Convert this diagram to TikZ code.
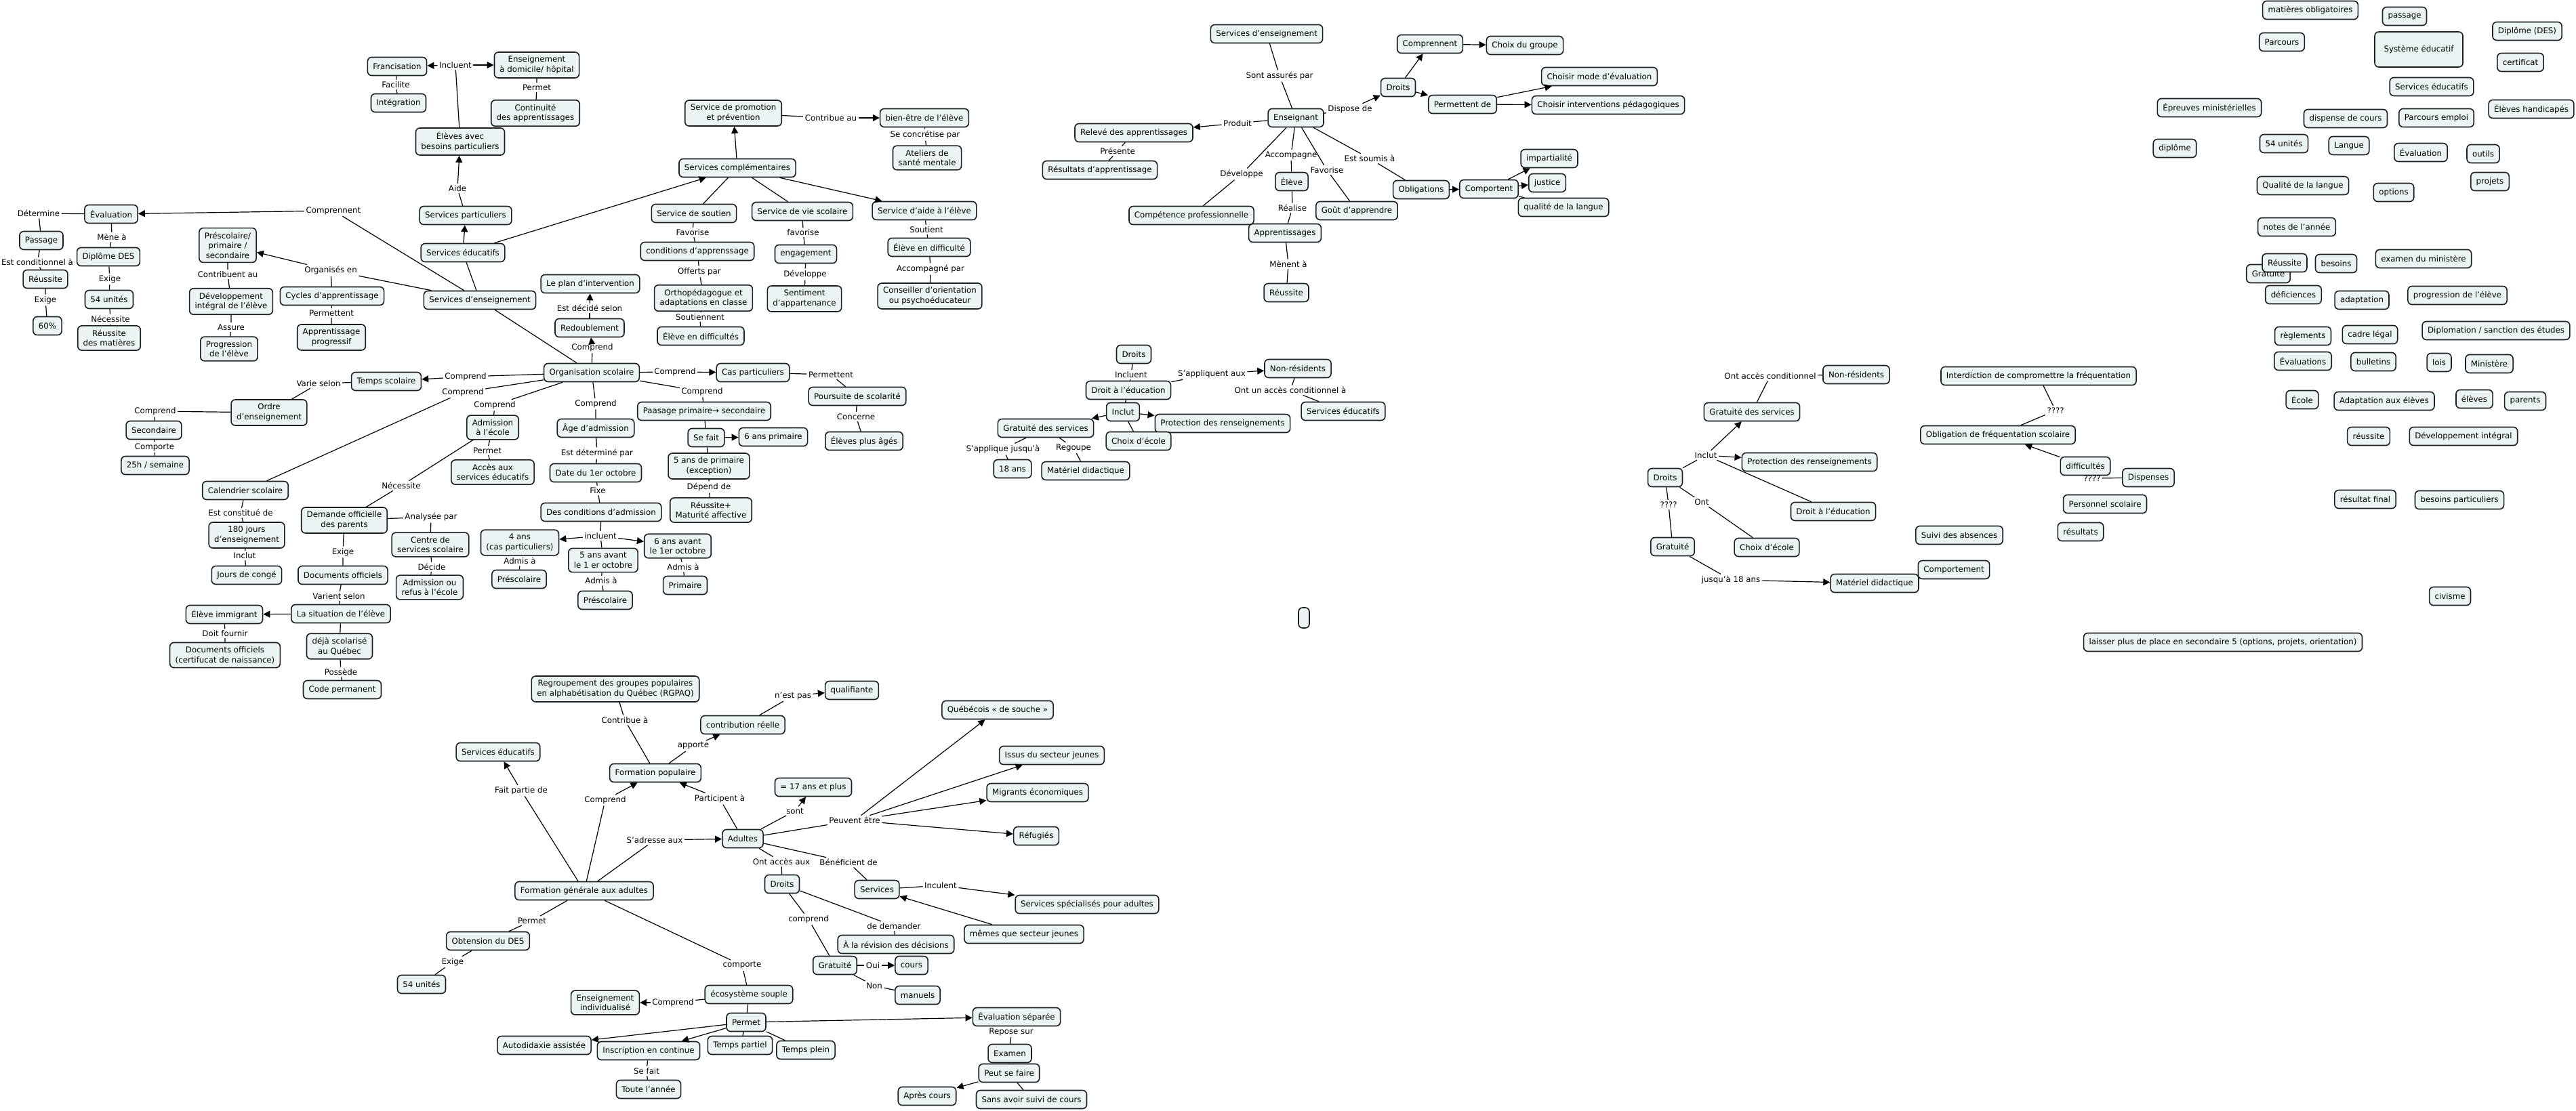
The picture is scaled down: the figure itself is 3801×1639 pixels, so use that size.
\documentclass[tikz,border=0pt]{standalone}
\usepackage{fontspec}
\setmainfont{DejaVu Sans}
\usetikzlibrary{arrows.meta}
\definecolor{conceptfill}{RGB}{236,243,245}
\definecolor{conceptline}{RGB}{30,30,30}
\newcommand{\mapfont}{\fontsize{5.9}{7.3}\selectfont}
\tikzset{
  concept/.style={draw=conceptline, fill=conceptfill, rounded corners=3pt, line width=0.8pt,
    inner xsep=4pt, inner ysep=3pt, minimum height=13.5pt, align=center, font=\mapfont},
  linkphrase/.style={inner sep=1pt, align=center, font=\mapfont},
  arr/.style={-{Triangle[length=5pt,width=5pt]}},
}
\begin{document}
\begin{tikzpicture}[x=0.5pt,y=0.5pt,yscale=-1,xscale=1,line width=0.6pt]
\useasboundingbox (0,0) rectangle (3801,1639);

% Concepts : services educatifs
\node[concept] (francis) at (586,98) {Francisation};
\node[concept] (ensdom) at (792,96) {Enseignement\\à domicile/ hôpital};
\node[concept] (integ) at (588,152) {Intégration};
\node[concept] (contin) at (790,167) {Continuité\\des apprentissages};
\node[concept] (ebp) at (679,209) {Élèves avec\\besoins particuliers};
\node[concept] (spart) at (687,318) {Services particuliers};
\node[concept] (sedu) at (683,373) {Services éducatifs};
\node[concept] (sde) at (708,443) {Services d’enseignement};
\node[concept] (plan) at (871,419) {Le plan d'intervention};
\node[concept] (redoub) at (870,484) {Redoublement};
\node[concept] (promo) at (1082,167) {Service de promotion\\et prévention};
\node[concept] (scomp) at (1088,248) {Services complémentaires};
\node[concept] (soutien) at (1024,315) {Service de soutien};
\node[concept] (cond) at (1029,371) {conditions d'apprenssage};
\node[concept] (ortho) at (1038,440) {Orthopédagogue et\\adaptations en classe};
\node[concept] (ediff) at (1034,496) {Élève en difficultés};
\node[concept] (bienetre) at (1364,174) {bien-être de l'élève};
\node[concept] (ateliers) at (1368,233) {Ateliers de\\santé mentale};
\node[concept] (viesco) at (1184,312) {Service de vie scolaire};
\node[concept] (engag) at (1189,375) {engagement};
\node[concept] (sentim) at (1187,441) {Sentiment\\d'appartenance};
\node[concept] (aide) at (1364,311) {Service d'aide à l'élève};
\node[concept] (ediff2) at (1371,365) {Élève en difficulté};
\node[concept] (conseil) at (1372,437) {Conseiller d'orientation\\ou psychoéducateur};
\node[concept] (eval) at (164,316) {Évaluation};
\node[concept] (passage) at (61,355) {Passage};
\node[concept] (reuss) at (67,412) {Réussite};
\node[concept] (soixante) at (70,481) {60\%};
\node[concept] (dipdes) at (160,379) {Diplôme DES};
\node[concept] (unites) at (161,442) {54 unités};
\node[concept] (reussmat) at (161,499) {Réussite\\des matières};
\node[concept] (prescol) at (336,362) {Préscolaire/\\primaire /\\secondaire};
\node[concept] (devint) at (341,445) {Développement\\intégral de l'élève};
\node[concept] (progel) at (338,515) {Progression\\de l'élève};
\node[concept] (cycles) at (490,437) {Cycles d'apprentissage};
\node[concept] (approg) at (489,498) {Apprentissage\\progressif};

% Concepts : organisation scolaire
\node[concept] (orgsco) at (873,550) {Organisation scolaire};
\node[concept] (tempsco) at (570,563) {Temps scolaire};
\node[concept] (ordre) at (397,609) {Ordre\\d'enseignement};
\node[concept] (second) at (227,635) {Secondaire};
\node[concept] (vingtcinq) at (229,687) {25h / semaine};
\node[concept] (calend) at (362,724) {Calendrier scolaire};
\node[concept] (jours) at (364,790) {180 jours\\d'enseignement};
\node[concept] (conges) at (364,849) {Jours de congé};
\node[concept] (demande) at (508,768) {Demande officielle\\des parents};
\node[concept] (docs) at (506,849) {Documents officiels};
\node[concept] (situation) at (503,906) {La situation de l'élève};
\node[concept] (immig) at (331,907) {Élève immigrant};
\node[concept] (docsnais) at (332,967) {Documents officiels\\(certifucat de naissance)};
\node[concept] (dejasco) at (501,954) {déjà scolarisé\\au Québec};
\node[concept] (codeperm) at (505,1018) {Code permanent};
\node[concept] (admis) at (727,631) {Admission\\à l'école};
\node[concept] (acces) at (727,697) {Accès aux\\services éducatifs};
\node[concept] (centre) at (635,804) {Centre de\\services scolaire};
\node[concept] (refus) at (634,867) {Admission ou\\refus à l'école};
\node[concept] (age) at (879,632) {Âge d'admission};
\node[concept] (date) at (879,698) {Date du 1er octobre};
\node[concept] (condadm) at (887,756) {Des conditions d'admission};
\node[concept] (quatre) at (767,801) {4 ans\\(cas particuliers)};
\node[concept] (presc1) at (766,855) {Préscolaire};
\node[concept] (cinq) at (890,827) {5 ans avant\\le 1 er octobre};
\node[concept] (presc2) at (893,886) {Préscolaire};
\node[concept] (six) at (1000,806) {6 ans avant\\le 1er octobre};
\node[concept] (primaire) at (1011,864) {Primaire};
\node[concept] (caspart) at (1111,550) {Cas particuliers};
\node[concept] (paasage) at (1039,607) {Paasage primaire→ secondaire};
\node[concept] (sefait) at (1042,646) {Se fait};
\node[concept] (sixprim) at (1141,645) {6 ans primaire};
\node[concept] (cinqprim) at (1046,688) {5 ans de primaire\\(exception)};
\node[concept] (maturite) at (1049,753) {Réussite+\\Maturité affective};
\node[concept] (poursuite) at (1265,585) {Poursuite de scolarité};
\node[concept] (plusages) at (1275,651) {Élèves plus âgés};

% Linking phrases
\node[linkphrase] (lIncluent) at (672,96) {Incluent};
\node[linkphrase] (lFacilite) at (584,125) {Facilite};
\node[linkphrase] (lPermet) at (792,129) {Permet};
\node[linkphrase] (lAide) at (675,278) {Aide};
\node[linkphrase] (lComprennent) at (492,311) {Comprennent};
\node[linkphrase] (lDetermine) at (57,315) {Détermine};
\node[linkphrase] (lCondit) at (55,387) {Est conditionnel à};
\node[linkphrase] (lExige) at (67,443) {Exige};
\node[linkphrase] (lMene) at (165,350) {Mène à};
\node[linkphrase] (lExigeB) at (162,412) {Exige};
\node[linkphrase] (lNecess) at (163,471) {Nécessite};
\node[linkphrase] (lOrganises) at (488,399) {Organisés en};
\node[linkphrase] (lContrib) at (336,405) {Contribuent au};
\node[linkphrase] (lAssure) at (341,483) {Assure};
\node[linkphrase] (lPermettent) at (489,462) {Permettent};
\node[linkphrase] (lDecide) at (870,455) {Est décidé selon};
\node[linkphrase] (lComprendR) at (874,513) {Comprend};
\node[linkphrase] (lContribue) at (1226,174) {Contribue au};
\node[linkphrase] (lConcretise) at (1365,199) {Se concrétise par};
\node[linkphrase] (lFavorise) at (1022,343) {Favorise};
\node[linkphrase] (lOfferts) at (1032,401) {Offerts par};
\node[linkphrase] (lSoutiennent) at (1033,468) {Soutiennent};
\node[linkphrase] (lfavoriseV) at (1185,343) {favorise};
\node[linkphrase] (lDeveloppe) at (1188,405) {Développe};
\node[linkphrase] (lSoutient) at (1367,339) {Soutient};
\node[linkphrase] (lAccomp) at (1373,397) {Accompagné par};
\node[linkphrase] (lCompTemps) at (687,556) {Comprend};
\node[linkphrase] (lCompCal) at (683,579) {Comprend};
\node[linkphrase] (lCompAdm) at (730,598) {Comprend};
\node[linkphrase] (lCompAge) at (879,596) {Comprend};
\node[linkphrase] (lCompCas) at (996,549) {Comprend};
\node[linkphrase] (lCompPaas) at (1036,578) {Comprend};
\node[linkphrase] (lVarie) at (470,566) {Varie selon};
\node[linkphrase] (lComprendOrd) at (229,607) {Comprend};
\node[linkphrase] (lComporte) at (228,660) {Comporte};
\node[linkphrase] (lConstitue) at (355,757) {Est constitué de};
\node[linkphrase] (lInclut) at (361,820) {Inclut};
\node[linkphrase] (lNecessite) at (592,717) {Nécessite};
\node[linkphrase] (lAnalysee) at (636,763) {Analysée par};
\node[linkphrase] (lDecideC) at (637,837) {Décide};
\node[linkphrase] (lExigeD) at (506,815) {Exige};
\node[linkphrase] (lVarient) at (500,880) {Varient selon};
\node[linkphrase] (lDoit) at (332,935) {Doit fournir};
\node[linkphrase] (lPossede) at (503,992) {Possède};
\node[linkphrase] (lPermetA) at (719,665) {Permet};
\node[linkphrase] (lDeterminePar) at (881,669) {Est déterminé par};
\node[linkphrase] (lFixe) at (882,724) {Fixe};
\node[linkphrase] (lincluent) at (886,791) {incluent};
\node[linkphrase] (lAdmisA) at (767,828) {Admis à};
\node[linkphrase] (lAdmisB) at (887,857) {Admis à};
\node[linkphrase] (lAdmisC) at (1008,837) {Admis à};
\node[linkphrase] (lDepend) at (1046,719) {Dépend de};
\node[linkphrase] (lPermettentC) at (1226,553) {Permettent};
\node[linkphrase] (lConcerne) at (1263,615) {Concerne};

% Connectors
\draw (sde) -- (lComprennent); \draw[arr] (lComprennent) -- (eval);
\draw (eval) -- (lDetermine) -- (passage);
\draw (passage) -- (lCondit) -- (reuss);
\draw (reuss) -- (lExige) -- (soixante);
\draw (eval) -- (lMene) -- (dipdes);
\draw (dipdes) -- (lExigeB) -- (unites);
\draw (unites) -- (lNecess) -- (reussmat);
\draw (sde) -- (lOrganises); \draw[arr] (lOrganises) -- (prescol);
\draw (lOrganises) -- (cycles);
\draw (prescol) -- (lContrib) -- (devint) -- (lAssure) -- (progel);
\draw (cycles) -- (lPermettent) -- (approg);
\draw (sde) -- (sedu);
\draw[arr] (sedu) -- (spart);
\draw (spart) -- (lAide); \draw[arr] (lAide) -- (ebp);
\draw (ebp) -- (lIncluent);
\draw[arr] (lIncluent) -- (francis); \draw[arr] (lIncluent) -- (ensdom);
\draw (francis) -- (lFacilite) -- (integ);
\draw (ensdom) -- (lPermet) -- (contin);
\draw[arr] (sedu) -- (scomp);
\draw[arr] (scomp) -- (promo);
\draw (scomp) -- (soutien);
\draw (scomp) -- (viesco);
\draw[arr] (scomp) -- (aide);
\draw (promo) -- (lContribue); \draw[arr] (lContribue) -- (bienetre);
\draw (bienetre) -- (lConcretise) -- (ateliers);
\draw (soutien) -- (lFavorise) -- (cond) -- (lOfferts) -- (ortho) -- (lSoutiennent) -- (ediff);
\draw (viesco) -- (lfavoriseV) -- (engag) -- (lDeveloppe) -- (sentim);
\draw (aide) -- (lSoutient) -- (ediff2) -- (lAccomp) -- (conseil);
\draw (sde) -- (orgsco);
\draw (orgsco) -- (lComprendR); \draw[arr] (lComprendR) -- (redoub);
\draw (redoub) -- (lDecide); \draw[arr] (lDecide) -- (plan);
\draw (orgsco) -- (lCompTemps); \draw[arr] (lCompTemps) -- (tempsco);
\draw (tempsco) -- (lVarie) -- (ordre);
\draw (ordre) -- (lComprendOrd) -- (second) -- (lComporte) -- (vingtcinq);
\draw (orgsco) -- (lCompCal) -- (calend);
\draw (calend) -- (lConstitue) -- (jours) -- (lInclut) -- (conges);
\draw (orgsco) -- (lCompAdm) -- (admis);
\draw (admis) -- (lPermetA) -- (acces);
\draw (admis) -- (lNecessite) -- (demande);
\draw (demande) -- (lAnalysee) -- (centre) -- (lDecideC) -- (refus);
\draw (demande) -- (lExigeD) -- (docs) -- (lVarient) -- (situation);
\draw[arr] (situation) -- (immig);
\draw (situation) -- (dejasco);
\draw (immig) -- (lDoit) -- (docsnais);
\draw (dejasco) -- (lPossede) -- (codeperm);
\draw (orgsco) -- (lCompAge) -- (age) -- (lDeterminePar) -- (date) -- (lFixe) -- (condadm);
\draw (condadm) -- (lincluent) -- (cinq);
\draw[arr] (lincluent) -- (quatre); \draw[arr] (lincluent) -- (six);
\draw (quatre) -- (lAdmisA) -- (presc1);
\draw (cinq) -- (lAdmisB) -- (presc2);
\draw (six) -- (lAdmisC) -- (primaire);
\draw (orgsco) -- (lCompCas); \draw[arr] (lCompCas) -- (caspart);
\draw (caspart) -- (lPermettentC) -- (poursuite) -- (lConcerne) -- (plusages);
\draw (orgsco) -- (lCompPaas) -- (paasage);
\draw (paasage) -- (sefait);
\draw[arr] (sefait) -- (sixprim);
\draw (sefait) -- (cinqprim) -- (lDepend) -- (maturite);

% Concepts : enseignant
\node[concept] (sdeB) at (1869,50) {Services d’enseignement};
\node[concept] (enseignant) at (1912,174) {Enseignant};
\node[concept] (releve) at (1673,196) {Relevé des apprentissages};
\node[concept] (resultats) at (1623,251) {Résultats d'apprentissage};
\node[concept] (droitsB) at (2063,129) {Droits};
\node[concept] (comprennent) at (2110,65) {Comprennent};
\node[concept] (choixgroupe) at (2250,67) {Choix du groupe};
\node[concept] (permettentde) at (2158,154) {Permettent de};
\node[concept] (modeeval) at (2360,113) {Choisir mode d'évaluation};
\node[concept] (interv) at (2373,155) {Choisir interventions pédagogiques};
\node[concept] (eleve) at (1906,268) {Élève};
\node[concept] (gout) at (2002,311) {Goût d'apprendre};
\node[concept] (compet) at (1758,318) {Compétence professionnelle};
\node[concept] (apprent) at (1896,344) {Apprentissages};
\node[concept] (reussiteB) at (1898,432) {Réussite};
\node[concept] (oblig) at (2097,280) {Obligations};
\node[concept] (comportent) at (2197,279) {Comportent};
\node[concept] (impart) at (2286,234) {impartialité};
\node[concept] (justice) at (2283,270) {justice};
\node[concept] (qualite) at (2307,306) {qualité de la langue};
\node[linkphrase] (lAssures) at (1888,112) {Sont assurés par};
\node[linkphrase] (lProduit) at (1826,182) {Produit};
\node[linkphrase] (lPresente) at (1649,223) {Présente};
\node[linkphrase] (lDispose) at (1992,161) {Dispose de};
\node[linkphrase] (lAccompagne) at (1905,229) {Accompagne};
\node[linkphrase] (lFavoriseE) at (1958,251) {Favorise};
\node[linkphrase] (lDeveloppeE) at (1832,257) {Développe};
\node[linkphrase] (lSoumis) at (2021,234) {Est soumis à};
\node[linkphrase] (lRealise) at (1907,307) {Réalise};
\node[linkphrase] (lMenent) at (1901,390) {Mènent à};

\draw (sdeB) -- (lAssures) -- (enseignant);
\draw (enseignant) -- (lProduit); \draw[arr] (lProduit) -- (releve);
\draw (releve) -- (lPresente) -- (resultats);
\draw (enseignant) -- (lDispose); \draw[arr] (lDispose) -- (droitsB);
\draw[arr] (droitsB) -- (comprennent); \draw[arr] (comprennent) -- (choixgroupe);
\draw[arr] (droitsB) -- (permettentde);
\draw[arr] (permettentde) -- (modeeval); \draw[arr] (permettentde) -- (interv);
\draw (enseignant) -- (lAccompagne) -- (eleve) -- (lRealise) -- (apprent) -- (lMenent) -- (reussiteB);
\draw (enseignant) -- (lFavoriseE) -- (gout);
\draw (enseignant) -- (lDeveloppeE) -- (compet);
\draw (enseignant) -- (lSoumis) -- (oblig);
\draw[arr] (oblig) -- (comportent);
\draw[arr] (comportent) -- (impart); \draw[arr] (comportent) -- (justice);
\draw (comportent) -- (qualite);

% Concepts : droits
\node[concept] (droitsC) at (1673,523) {Droits};
\node[concept] (droitedu) at (1665,576) {Droit à l'éducation};
\node[concept] (nonres) at (1915,544) {Non-résidents};
\node[concept] (seduC) at (1982,607) {Services éducatifs};
\node[concept] (inclut) at (1657,608) {Inclut};
\node[concept] (gratserv) at (1543,632) {Gratuité des services};
\node[concept] (protect) at (1804,625) {Protection des renseignements};
\node[concept] (choixecole) at (1680,651) {Choix d'école};
\node[concept] (dixhuit) at (1494,692) {18 ans};
\node[concept] (materiel) at (1602,695) {Matériel didactique};
\node[concept, minimum width=8pt, minimum height=15pt, inner xsep=0pt] (emptybox) at (1924,912) {};
\node[linkphrase] (lIncluentD) at (1669,553) {Incluent};
\node[linkphrase] (lAppliquent) at (1788,552) {S'appliquent aux};
\node[linkphrase] (lAccesCond) at (1904,576) {Ont un accès conditionnel à};
\node[linkphrase] (lJusqua) at (1480,663) {S'applique jusqu'à};
\node[linkphrase] (lRegoupe) at (1584,661) {Regoupe};

\draw (droitsC) -- (lIncluentD) -- (droitedu);
\draw (droitedu) -- (lAppliquent); \draw[arr] (lAppliquent) -- (nonres);
\draw (nonres) -- (lAccesCond) -- (seduC);
\draw (droitedu) -- (inclut);
\draw[arr] (inclut) -- (gratserv); \draw[arr] (inclut) -- (protect);
\draw (inclut) -- (choixecole);
\draw (gratserv) -- (lJusqua) -- (dixhuit);
\draw (gratserv) -- (lRegoupe) -- (materiel);

\node[concept] (nonresB) at (2739,553) {Non-résidents};
\node[concept] (gratservB) at (2585,608) {Gratuité des services};
\node[concept] (protectB) at (2670,682) {Protection des renseignements};
\node[concept] (droitsD) at (2457,705) {Droits};
\node[concept] (droiteduB) at (2705,755) {Droit à l'éducation};
\node[concept] (gratuiteB) at (2468,807) {Gratuité};
\node[concept] (choixecoleB) at (2607,808) {Choix d'école};
\node[concept] (materielB) at (2766,861) {Matériel didactique};
\node[concept] (suivi) at (2891,790) {Suivi des absences};
\node[concept] (comportement) at (2883,841) {Comportement};
\node[concept] (interdiction) at (3008,555) {Interdiction de compromettre la fréquentation};
\node[concept] (obligfreq) at (2948,642) {Obligation de fréquentation scolaire};
\node[concept] (difficultes) at (3077,688) {difficultés};
\node[concept] (dispenses) at (3170,705) {Dispenses};
\node[concept] (personnel) at (3106,744) {Personnel scolaire};
\node[concept] (resultatsB) at (3070,785) {résultats};
\node[linkphrase] (lAccesCondB) at (2612,555) {Ont accès conditionnel};
\node[linkphrase] (lInclutD) at (2517,672) {Inclut};
\node[linkphrase] (lQa) at (2462,745) {????};
\node[linkphrase] (lOnt) at (2511,741) {Ont};
\node[linkphrase] (lJusqu) at (2554,856) {jusqu'à 18 ans};
\node[linkphrase] (lQb) at (3033,606) {????};
\node[linkphrase] (lQc) at (3087,706) {????};

\draw (gratservB) -- (lAccesCondB) -- (nonresB);
\draw (droitsD) -- (lInclutD);
\draw[arr] (lInclutD) -- (gratservB); \draw[arr] (lInclutD) -- (protectB);
\draw (lInclutD) -- (droiteduB);
\draw (droitsD) -- (lQa) -- (gratuiteB);
\draw (droitsD) -- (lOnt) -- (choixecoleB);
\draw (gratuiteB) -- (lJusqu); \draw[arr] (lJusqu) -- (materielB);
\draw (obligfreq) -- (lQb) -- (interdiction);
\draw[arr] (difficultes) -- (obligfreq);
\draw (lQc) -- (dispenses);

% Concepts isoles
\node[concept] (matobl) at (3409,15) {matières obligatoires};
\node[concept] (passageB) at (3548,24) {passage};
\node[concept] (diplomeB) at (3729,46) {Diplôme (DES)};
\node[concept] (parcours) at (3367,62) {Parcours};
\node[concept, minimum height=26pt, minimum width=65pt] (systeme) at (3569,73) {Système éducatif};
\node[concept] (certificat) at (3719,92) {certificat};
\node[concept] (seduD) at (3588,128) {Services éducatifs};
\node[concept] (epreuves) at (3260,159) {Épreuves ministérielles};
\node[concept] (dispense) at (3461,175) {dispense de cours};
\node[concept] (parcemploi) at (3595,174) {Parcours emploi};
\node[concept] (handicapes) at (3735,161) {Élèves handicapés};
\node[concept] (diplome) at (3209,219) {diplôme};
\node[concept] (unitesB) at (3370,212) {54 unités};
\node[concept] (langue) at (3466,215) {Langue};
\node[concept] (evalB) at (3572,225) {Évaluation};
\node[concept] (outils) at (3664,227) {outils};
\node[concept] (projets) at (3674,268) {projets};
\node[concept] (qualiteB) at (3398,274) {Qualité de la langue};
\node[concept] (options) at (3532,284) {options};
\node[concept] (notes) at (3389,335) {notes de l’année};
\node[concept] (gratuiteC) at (3347,404) {Gratuité};
\node[concept] (reussiteC) at (3371,388) {Réussite};
\node[concept] (besoins) at (3447,389) {besoins};
\node[concept] (examenmin) at (3576,382) {examen du ministère};
\node[concept] (deficiences) at (3384,435) {déficiences};
\node[concept] (adaptation) at (3485,443) {adaptation};
\node[concept] (progression) at (3626,436) {progression de l’élève};
\node[concept] (reglements) at (3398,496) {règlements};
\node[concept] (cadre) at (3497,494) {cadre légal};
\node[concept] (diplomation) at (3683,488) {Diplomation / sanction des études};
\node[concept] (evaluations) at (3398,533) {Évaluations};
\node[concept] (bulletins) at (3502,534) {bulletins};
\node[concept] (lois) at (3599,535) {lois};
\node[concept] (ministere) at (3673,537) {Ministère};
\node[concept] (ecole) at (3397,590) {École};
\node[concept] (adapteleves) at (3518,592) {Adaptation aux élèves};
\node[concept] (eleves) at (3651,589) {élèves};
\node[concept] (parents) at (3726,592) {parents};
\node[concept] (reussiteD) at (3495,644) {réussite};
\node[concept] (devintB) at (3635,644) {Développement intégral};
\node[concept] (resfinal) at (3490,737) {résultat final};
\node[concept] (besoinspart) at (3629,738) {besoins particuliers};
\node[concept] (civisme) at (3615,880) {civisme};
\node[concept] (laisser) at (3280,948) {laisser plus de place en secondaire 5 (options, projets, orientation)};

% Concepts : formation generale aux adultes
\node[concept] (rgpaq) at (908,1017) {Regroupement des groupes populaires\\en alphabétisation du Québec (RGPAQ)};
\node[concept] (contrib) at (1096,1070) {contribution réelle};
\node[concept] (qualif) at (1257,1019) {qualifiante};
\node[concept] (seduB) at (735,1110) {Services éducatifs};
\node[concept] (formpop) at (967,1141) {Formation populaire};
\node[concept] (dixsept) at (1200,1162) {= 17 ans et plus};
\node[concept] (adultes) at (1096,1238) {Adultes};
\node[concept] (droitsE) at (1154,1305) {Droits};
\node[concept] (fga) at (862,1315) {Formation générale aux adultes};
\node[concept] (obtension) at (720,1389) {Obtension du DES};
\node[concept] (unitesC) at (622,1453) {54 unités};
\node[concept] (ecosys) at (1105,1468) {écosystème souple};
\node[concept] (ensind) at (893,1480) {Enseignement\\individualisé};
\node[concept] (permetbox) at (1101,1509) {Permet};
\node[concept] (autodid) at (803,1543) {Autodidaxie assistée};
\node[concept] (inscript) at (957,1551) {Inscription en continue};
\node[concept] (tpartiel) at (1092,1543) {Temps partiel};
\node[concept] (tplein) at (1189,1550) {Temps plein};
\node[concept] (touteannee) at (957,1608) {Toute l'année};
\node[concept] (quebecois) at (1472,1048) {Québécois « de souche »};
\node[concept] (issus) at (1552,1115) {Issus du secteur jeunes};
\node[concept] (migrants) at (1531,1170) {Migrants économiques};
\node[concept] (refugies) at (1529,1234) {Réfugiés};
\node[concept] (services) at (1294,1313) {Services};
\node[concept] (servspec) at (1604,1335) {Services spécialisés pour adultes};
\node[concept] (memes) at (1511,1379) {mêmes que secteur jeunes};
\node[concept] (revision) at (1322,1394) {À la révision des décisions};
\node[concept] (gratuiteD) at (1232,1425) {Gratuité};
\node[concept] (cours) at (1345,1425) {cours};
\node[concept] (manuels) at (1354,1469) {manuels};
\node[concept] (evalsep) at (1500,1501) {Évaluation séparée};
\node[concept] (examen) at (1490,1555) {Examen};
\node[concept] (peutsefaire) at (1489,1584) {Peut se faire};
\node[concept] (apres) at (1368,1618) {Après cours};
\node[concept] (sansavoir) at (1522,1623) {Sans avoir suivi de cours};
\node[linkphrase] (lContribueA) at (922,1063) {Contribue à};
\node[linkphrase] (lApporte) at (1023,1101) {apporte};
\node[linkphrase] (lNestpas) at (1170,1027) {n'est pas};
\node[linkphrase] (lFaitPartie) at (769,1167) {Fait partie de};
\node[linkphrase] (lComprendF) at (893,1181) {Comprend};
\node[linkphrase] (lParticipent) at (1062,1179) {Participent à};
\node[linkphrase] (lSont) at (1173,1197) {sont};
\node[linkphrase] (lAdresse) at (966,1240) {S'adresse aux};
\node[linkphrase] (lPeuvent) at (1261,1211) {Peuvent être};
\node[linkphrase] (lOntAcces) at (1153,1272) {Ont accès aux};
\node[linkphrase] (lBenef) at (1252,1273) {Bénéficient de};
\node[linkphrase] (lcomprendE) at (1193,1357) {comprend};
\node[linkphrase] (lPermetF) at (785,1359) {Permet};
\node[linkphrase] (lExigeF) at (668,1420) {Exige};
\node[linkphrase] (lcomporte) at (1095,1425) {comporte};
\node[linkphrase] (lComprendE) at (993,1480) {Comprend};
\node[linkphrase] (lSefait) at (954,1581) {Se fait};
\node[linkphrase] (lInculent) at (1388,1307) {Inculent};
\node[linkphrase] (lDemander) at (1319,1367) {de demander};
\node[linkphrase] (lOui) at (1288,1425) {Oui};
\node[linkphrase] (lNon) at (1290,1455) {Non};
\node[linkphrase] (lRepose) at (1492,1523) {Repose sur};

\draw (formpop) -- (lContribueA) -- (rgpaq);
\draw (formpop) -- (lApporte); \draw[arr] (lApporte) -- (contrib);
\draw (contrib) -- (lNestpas); \draw[arr] (lNestpas) -- (qualif);
\draw (fga) -- (lFaitPartie); \draw[arr] (lFaitPartie) -- (seduB);
\draw (fga) -- (lComprendF); \draw[arr] (lComprendF) -- (formpop);
\draw (adultes) -- (lParticipent); \draw[arr] (lParticipent) -- (formpop);
\draw (adultes) -- (lSont); \draw[arr] (lSont) -- (dixsept);
\draw (fga) -- (lAdresse); \draw[arr] (lAdresse) -- (adultes);
\draw (adultes) -- (lPeuvent);
\draw[arr] (lPeuvent) -- (quebecois); \draw[arr] (lPeuvent) -- (issus);
\draw[arr] (lPeuvent) -- (migrants); \draw[arr] (lPeuvent) -- (refugies);
\draw (adultes) -- (lOntAcces) -- (droitsE);
\draw (adultes) -- (lBenef) -- (services);
\draw (services) -- (lInculent); \draw[arr] (lInculent) -- (servspec);
\draw[arr] (memes) -- (services);
\draw (droitsE) -- (lcomprendE) -- (gratuiteD);
\draw (droitsE) -- (lDemander) -- (revision);
\draw (gratuiteD) -- (lOui); \draw[arr] (lOui) -- (cours);
\draw (gratuiteD) -- (lNon) -- (manuels);
\draw (fga) -- (lPermetF) -- (obtension) -- (lExigeF) -- (unitesC);
\draw (fga) -- (lcomporte) -- (ecosys);
\draw (ecosys) -- (lComprendE); \draw[arr] (lComprendE) -- (ensind);
\draw (ecosys) -- (permetbox);
\draw[arr] (permetbox) -- (autodid); \draw[arr] (permetbox) -- (inscript);
\draw (permetbox) -- (tpartiel); \draw (permetbox) -- (tplein);
\draw[arr] (permetbox) -- (evalsep);
\draw (inscript) -- (lSefait) -- (touteannee);
\draw (evalsep) -- (lRepose) -- (examen) -- (peutsefaire);
\draw[arr] (peutsefaire) -- (apres);
\draw (peutsefaire) -- (sansavoir);
\end{tikzpicture}
\end{document}
